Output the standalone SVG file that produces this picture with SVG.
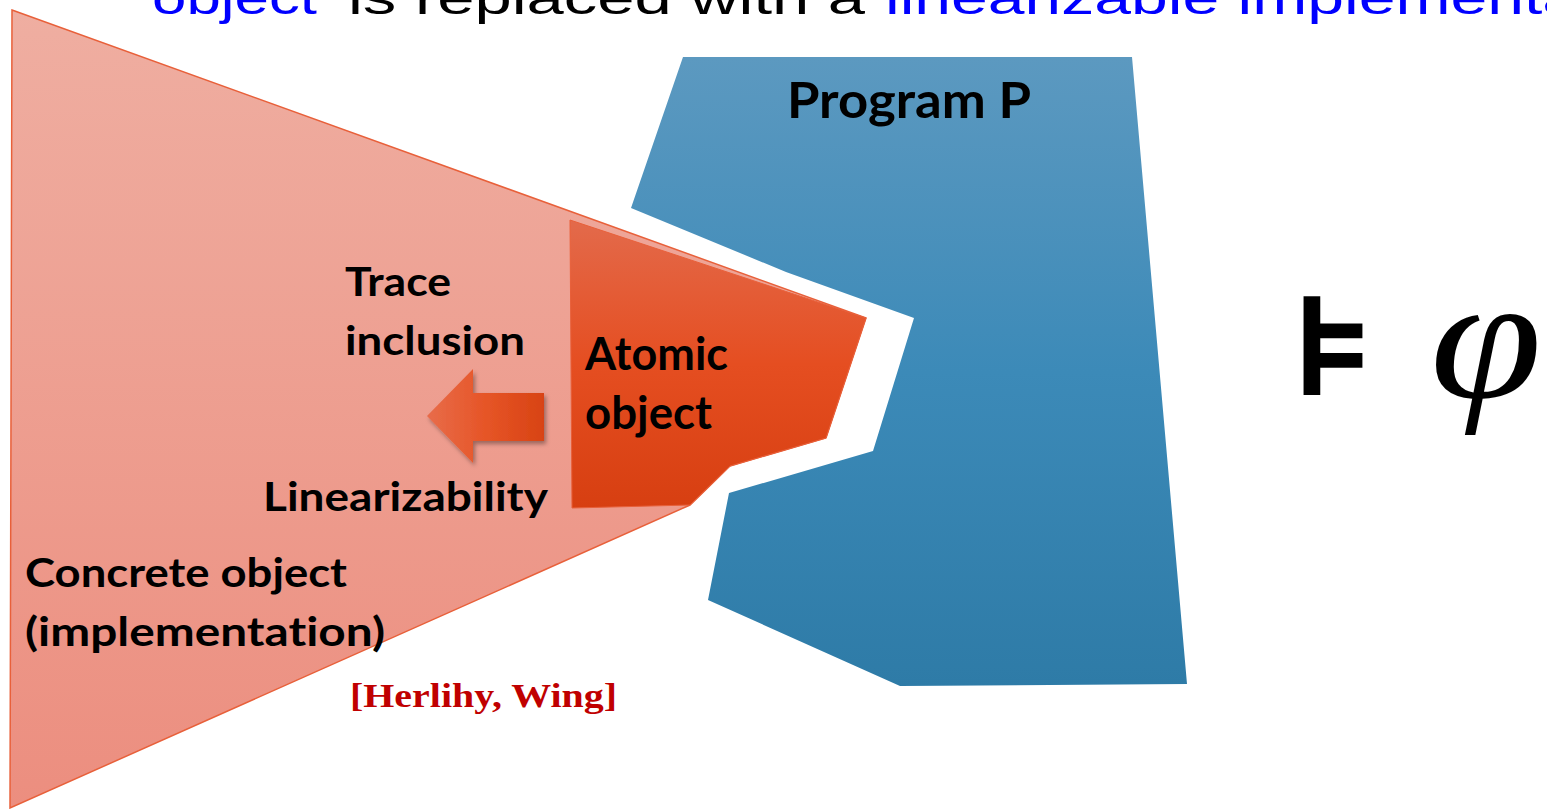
<svg xmlns="http://www.w3.org/2000/svg" width="1547" height="809" viewBox="0 0 1547 809">
<defs>
<linearGradient id="gPink" x1="0" y1="0" x2="0" y2="1">
<stop offset="0" stop-color="#EFAEA1"/>
<stop offset="1" stop-color="#EC8E7F"/>
</linearGradient>
<linearGradient id="gAtomic" x1="0" y1="0" x2="0" y2="1">
<stop offset="0" stop-color="#E36A4B"/>
<stop offset="0.5" stop-color="#E54E21"/>
<stop offset="1" stop-color="#D73F11"/>
</linearGradient>
<linearGradient id="gBlue" x1="0" y1="0" x2="0" y2="1">
<stop offset="0" stop-color="#5C99C0"/>
<stop offset="0.5" stop-color="#3C8AB8"/>
<stop offset="1" stop-color="#2E7BA7"/>
</linearGradient>
<linearGradient id="gArrow" x1="0" y1="0" x2="1" y2="0">
<stop offset="0" stop-color="#E86C4A"/>
<stop offset="0.5" stop-color="#E65527"/>
<stop offset="1" stop-color="#D84314"/>
</linearGradient>
<filter id="shadow" x="-20%" y="-20%" width="150%" height="150%">
<feDropShadow dx="2" dy="3" stdDeviation="2" flood-color="#000" flood-opacity="0.35"/>
</filter>
</defs>
<style>
.lbl{font-family:Lato,"Liberation Sans",sans-serif;font-weight:bold;fill:#000;font-variant-ligatures:none}
.top{font-family:"Liberation Sans",Arial,sans-serif;font-size:46px}
</style>
<g id="title">
<text class="top" x="152" y="14" fill="#0000FF" textLength="165" lengthAdjust="spacingAndGlyphs">object</text>
<text class="top" x="348" y="14" fill="#000000" textLength="517" lengthAdjust="spacingAndGlyphs">is replaced with a</text>
<text class="top" x="885" y="14" fill="#0000FF" textLength="694" lengthAdjust="spacingAndGlyphs">linearizable implementa</text>
</g>
<g id="concrete-object">
<polygon points="12,10 866,318 826,438 730,466 690,505 10,808" fill="url(#gPink)" stroke="#E8603A" stroke-width="1.5"/>
<text class="lbl" x="25" y="587" font-size="40" textLength="322" lengthAdjust="spacingAndGlyphs">Concrete object</text>
<text class="lbl" x="25" y="646" font-size="40" textLength="360" lengthAdjust="spacingAndGlyphs">(implementation)</text>
</g>
<g id="program-p">
<polygon points="683,57 1132,57 1187,684 900,686 708,600 729,493 873,451 914,318 786,272 631,208" fill="url(#gBlue)"/>
<text class="lbl" x="787" y="118" font-size="49" textLength="244" lengthAdjust="spacingAndGlyphs">Program P</text>
</g>
<g id="atomic-object">
<polygon points="570,220 866,318 826,438 730,466 690,505 572,508" fill="url(#gAtomic)" stroke="#E8603A" stroke-width="1"/>
<text class="lbl" x="585" y="370" font-size="45" textLength="143" lengthAdjust="spacingAndGlyphs">Atomic</text>
<text class="lbl" x="585" y="429" font-size="45" textLength="127" lengthAdjust="spacingAndGlyphs">object</text>
</g>
<g id="connectors">
<polygon points="427,416 473,369 473,393 544,393 544,441 473,441 473,463" fill="url(#gArrow)" filter="url(#shadow)"/>
</g>
<g id="trace-inclusion">
<text class="lbl" x="345" y="296" font-size="40" textLength="106" lengthAdjust="spacingAndGlyphs">Trace</text>
<text class="lbl" x="345" y="355" font-size="40" textLength="180" lengthAdjust="spacingAndGlyphs">inclusion</text>
</g>
<g id="linearizability">
<text class="lbl" x="263" y="511" font-size="40" textLength="285" lengthAdjust="spacingAndGlyphs">Linearizability</text>
</g>
<g id="citation">
<text x="350" y="707" font-family="'Liberation Serif','Times New Roman',serif" font-weight="bold" font-size="33" fill="#C00000" textLength="267" lengthAdjust="spacingAndGlyphs">[Herlihy, Wing]</text>
</g>
<g id="models-phi">
<text x="1290" y="395" font-family="'DejaVu Sans',sans-serif" font-weight="bold" font-size="140" fill="#000" textLength="86" lengthAdjust="spacingAndGlyphs">⊧</text>
<text x="1430" y="398" font-family="'Liberation Serif','Times New Roman',serif" font-style="italic" font-size="175" fill="#000" textLength="112" lengthAdjust="spacingAndGlyphs">φ</text>
</g>
</svg>
